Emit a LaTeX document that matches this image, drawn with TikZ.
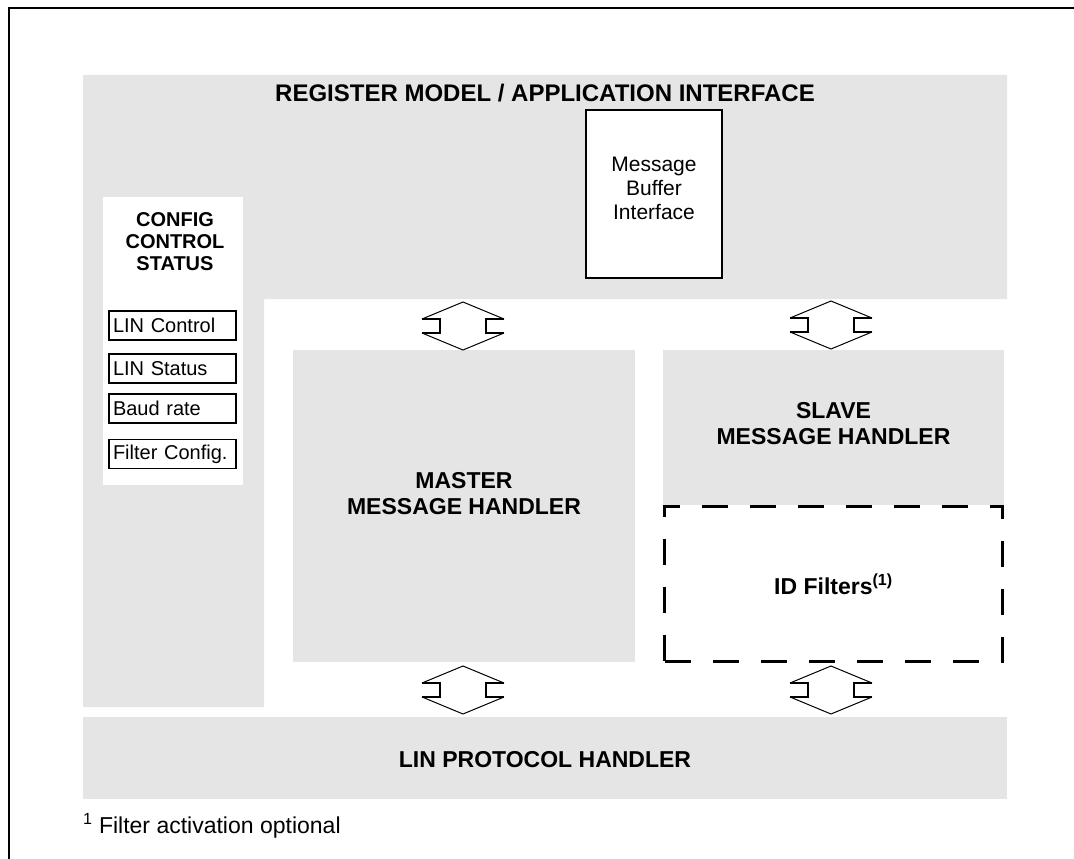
\documentclass[tikz,border=0pt]{standalone}
\usepackage{fontspec}
\setmainfont{Liberation Sans}
\definecolor{bggray}{RGB}{229,229,229}
\begin{document}
\begin{tikzpicture}[x=1pt,y=-1pt,
  region/.style={fill=bggray,draw=none},
  bold lbl/.style={font=\fontsize{23}{26}\selectfont\bfseries,align=center,inner sep=0pt},
  cfg lbl/.style={font=\fontsize{20}{22}\selectfont\bfseries,align=center,inner sep=0pt},
  plain lbl/.style={font=\fontsize{21}{24}\selectfont,align=center,inner sep=0pt},
  smallbox/.style={draw,line width=1.6pt,fill=white,minimum width=127pt,minimum height=29pt,
    text width=119pt,align=left,inner xsep=4pt,inner ysep=0pt,font=\fontsize{20}{22}\selectfont},
  dblarrow/.pic={
    \draw[line width=1pt] (-41,-7) -- (0,-24) -- (41,-7);
    \draw[line width=1pt] (-41,7) -- (0,24) -- (41,7);
    \draw[line width=2.5pt] (-41,-7) -- (-23,-7) -- (-23,7) -- (-41,7);
    \draw[line width=2.5pt] (41,-7) -- (23,-7) -- (23,7) -- (41,7);
  }]
\useasboundingbox (0,0) rectangle (1074,859);
% outer frame (open at right and bottom)
\draw[line width=2pt] (8.5,859) -- (8.5,8.5) -- (1074,8.5);
% register model / application interface (L-shaped region)
\fill[region] (83,75) -- (1007,75) -- (1007,299) -- (264,299) -- (264,707) -- (83,707) -- cycle;
\node[bold lbl,font=\fontsize{24}{27}\selectfont\bfseries] (title) at (545,93) {REGISTER MODEL / APPLICATION INTERFACE};
% message buffer interface
\node[draw,line width=2pt,fill=white,minimum width=136pt,minimum height=168pt,inner sep=0pt] (mbi) at (654,194) {};
\node[plain lbl] (mbitxt) at (654,188) {Message\\Buffer\\Interface};
% config / control / status
\fill[white] (103,197) rectangle (243,485);
\node[cfg lbl] (cfg) at (175,242) {CONFIG\\CONTROL\\STATUS};
\node[smallbox] (linctl) at (172.5,325.5) {LIN Control};
\node[smallbox] (linstat) at (172.5,368.5) {LIN Status};
\node[smallbox] (baud) at (172.5,408.5) {Baud rate};
\node[smallbox] (fcfg) at (172.5,454) {Filter Config.};
% master message handler
\node[region,minimum width=342pt,minimum height=312pt,inner sep=0pt] (master) at (464,506) {};
\node[bold lbl] (mastertxt) at (464,494) {MASTER\\MESSAGE HANDLER};
% slave message handler
\node[region,minimum width=341pt,minimum height=155pt,inner sep=0pt] (slave) at (833.5,427.5) {};
\node[bold lbl] (slavetxt) at (833.5,424) {SLAVE\\MESSAGE HANDLER};
% ID filters
\node[draw,line width=3pt,dash pattern=on 26pt off 22pt,minimum width=338pt,minimum height=155pt,inner sep=0pt] (idf) at (833.5,583.5) {};
\node[bold lbl] (idftxt) at (833.5,584) {ID Filters\textsuperscript{(1)}};
% LIN protocol handler
\node[region,minimum width=924pt,minimum height=82pt,inner sep=0pt] (lin) at (545,758) {};
\node[bold lbl] (lintxt) at (545,760) {LIN PROTOCOL HANDLER};
% bidirectional arrows
\pic (a1) at (463,326) {dblarrow};
\pic (a2) at (831,325) {dblarrow};
\pic (a3) at (463,690) {dblarrow};
\pic (a4) at (831,690) {dblarrow};
% footnote
\node[anchor=west,inner sep=0pt,font=\fontsize{23}{26}\selectfont] (foot) at (83,826) {\textsuperscript{1} Filter activation optional};
\end{tikzpicture}
\end{document}
